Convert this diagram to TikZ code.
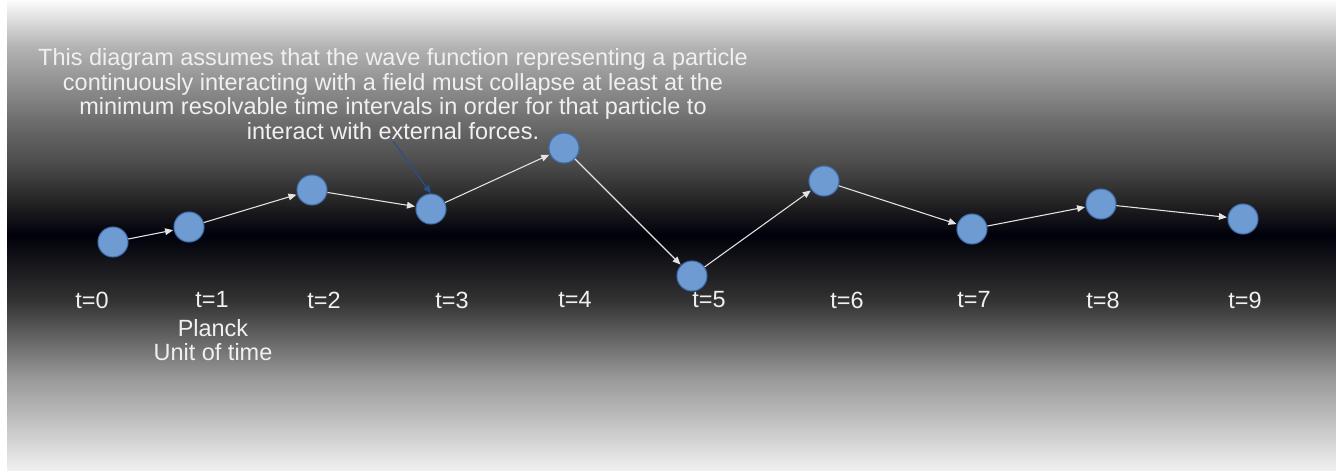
\documentclass[tikz,border=0pt]{standalone}
\usepackage{fontspec}
\setmainfont{Liberation Sans}
\usetikzlibrary{arrows.meta,positioning}
\definecolor{DotBlue}{RGB}{110,155,210}
\definecolor{DotEdge}{RGB}{66,110,175}
\definecolor{StepGray}{RGB}{228,228,228}
\definecolor{NoteBlue}{RGB}{40,80,145}
\definecolor{TextWhite}{RGB}{240,240,240}
\pgfdeclareverticalshading{bandshade}{100bp}{%
  color(0bp)=(white!94!black); color(25bp)=(white!94!black);
  color(30bp)=(white!76!black); color(35bp)=(white!59!black);
  color(43bp)=(white!20!black); color(50bp)=(black!96!blue);
  color(54bp)=(white!16!black); color(58bp)=(white!31!black);
  color(61bp)=(white!39!black); color(70bp)=(white!70!black);
  color(75bp)=(white!99!black); color(100bp)=(white!99!black)}

\begin{document}
\begin{tikzpicture}[
    x=0.75pt, y=-0.75pt,
    font=\fontsize{17.6}{18.4}\selectfont,
    dot/.style={circle, minimum size=22.5pt, inner sep=0pt, fill=DotBlue, draw=DotEdge, line width=0.8pt},
    steplabel/.style={text=TextWhite, inner sep=1pt},
    notetext/.style={text=TextWhite, align=center, inner sep=1pt},
    steparrow/.style={-{Triangle[length=6pt,width=5pt]}, draw=StepGray, line width=0.8pt, shorten >=0.5pt},
    notearrow/.style={-{Triangle[length=6pt,width=5pt]}, draw=NoteBlue, line width=0.8pt}
]
\useasboundingbox (0,0) rectangle (1336,472);
\fill[white] (0,0) rectangle (1336,472);

% backdrop: dark horizontal band fading to white above and below
\shade[shading=bandshade] (7,0) rectangle (1336,470);

% collapse points, one per Planck time step
\foreach \i/\px/\py in {0/113/242, 1/189/227, 2/312/190, 3/431/209, 4/564/148,
                        5/692/276, 6/824/181, 7/972/229, 8/1101/204, 9/1243/219}
  \node[dot] (p\i) at (\px,\py) {};

% time labels
\foreach \i/\px in {0/92, 1/212, 2/324, 3/452, 4/575, 5/709, 6/847, 7/974, 8/1103, 9/1245}
  \node[steplabel] (l\i) at (\px,300) {t=\i};
\node[steplabel, align=center] (planck) at (213,340) {Planck\\Unit of time};

% path between successive collapses
\foreach \a/\b in {0/1, 1/2, 2/3, 3/4, 4/5, 5/6, 6/7, 7/8, 8/9}
  \draw[steparrow] (p\a) -- (p\b);

% explanatory note and its pointer
\node[notetext] (note) at (393,94) {This diagram assumes that the wave function representing a particle\\
continuously interacting with a field must collapse at least at the\\
minimum resolvable time intervals in order for that particle to\\
interact with external forces.};
\draw[notearrow] (note.south) -- (p3.north);

\end{tikzpicture}
\end{document}
